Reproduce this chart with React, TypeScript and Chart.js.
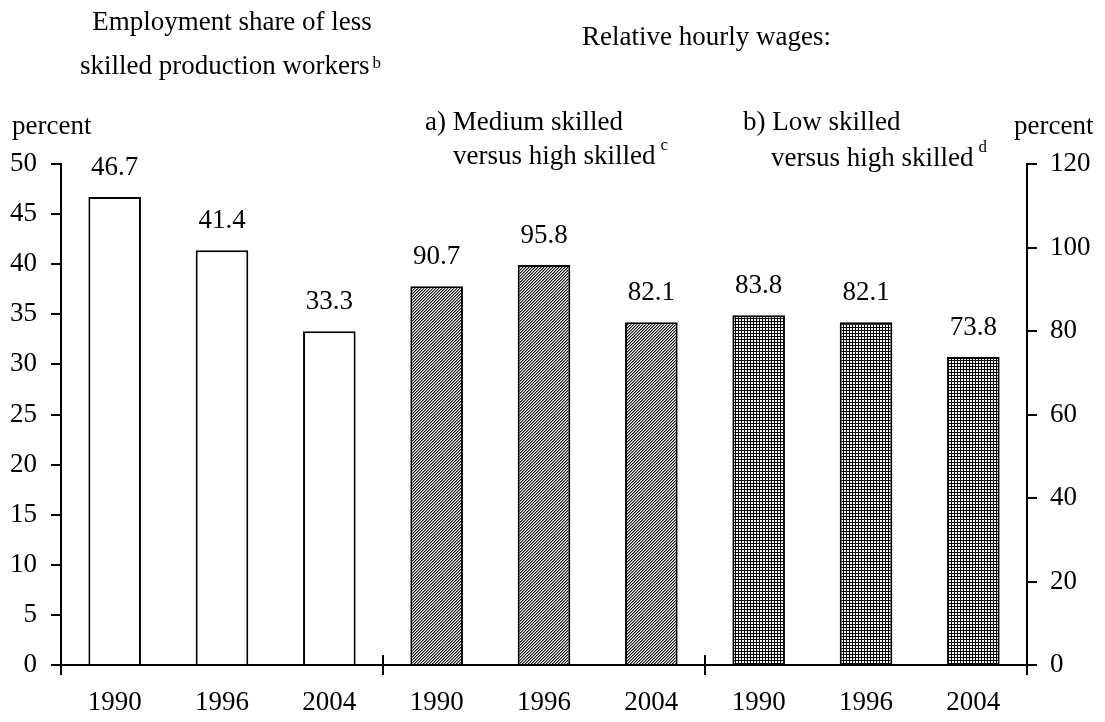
import React, { useEffect, useRef } from "react";
import { Chart, registerables } from "chart.js";

Chart.register(...registerables);

const categories = ["1990", "1996", "2004", "1990", "1996", "2004", "1990", "1996", "2004"];
const employmentShare = [46.7, 41.4, 33.3, null, null, null, null, null, null];
const mediumVsHigh = [null, null, null, 90.7, 95.8, 82.1, null, null, null];
const lowVsHigh = [null, null, null, null, null, null, 83.8, 82.1, 73.8];
const leftTicks = { min: 0, max: 50, step: 5 };
const rightTicks = { min: 0, max: 120, step: 20 };
const groupSize = 3;

const FONT = "'Liberation Serif', 'Times New Roman', serif";

function makeDiagonalPattern(): CanvasPattern | string {
  const c = document.createElement("canvas");
  c.width = 3;
  c.height = 3;
  const g = c.getContext("2d");
  if (!g) return "#888";
  g.fillStyle = "#ffffff";
  g.fillRect(0, 0, 3, 3);
  for (let x = 0; x < 3; x++) {
    for (let y = 0; y < 3; y++) {
      const s = (x + y) % 3;
      if (s === 0) {
        g.fillStyle = "#151515";
        g.fillRect(x, y, 1, 1);
      } else if (s === 1) {
        g.fillStyle = "#8a8a8a";
        g.fillRect(x, y, 1, 1);
      }
    }
  }
  return g.createPattern(c, "repeat") || "#888";
}

function makeGridPattern(): CanvasPattern | string {
  const c = document.createElement("canvas");
  c.width = 3;
  c.height = 3;
  const g = c.getContext("2d");
  if (!g) return "#666";
  g.fillStyle = "#f4f4f4";
  g.fillRect(0, 0, 3, 3);
  g.fillStyle = "#000000";
  g.fillRect(0, 0, 3, 1);
  g.fillRect(0, 0, 1, 3);
  return g.createPattern(c, "repeat") || "#666";
}

const valueLabelPlugin = {
  id: "valueLabels",
  afterDatasetsDraw(chart: any) {
    const ctx = chart.ctx;
    ctx.save();
    ctx.font = `27px ${FONT}`;
    ctx.fillStyle = "#000";
    ctx.textAlign = "center";
    ctx.textBaseline = "middle";
    chart.data.datasets.forEach((ds: any, di: number) => {
      const meta = chart.getDatasetMeta(di);
      meta.data.forEach((el: any, i: number) => {
        const v = ds.data[i];
        if (v === null || v === undefined) return;
        ctx.fillText(Number(v).toFixed(1), el.x, el.y - 29);
      });
    });
    ctx.restore();
  },
};

const annotationPlugin = {
  id: "annotations",
  afterDraw(chart: any) {
    const ctx = chart.ctx;
    const x = chart.scales.x;
    ctx.save();
    // upper halves of group separator ticks on x axis
    const n = categories.length;
    const w = (x.right - x.left) / n;
    ctx.strokeStyle = "#000";
    ctx.lineWidth = 2;
    for (let i = 0; i <= n; i += groupSize) {
      const px = Math.round(x.getPixelForValue(0) - w / 2 + i * w);
      ctx.beginPath();
      ctx.moveTo(px, x.top);
      ctx.lineTo(px, x.top - 10);
      ctx.stroke();
    }

    ctx.fillStyle = "#000";
    ctx.textBaseline = "alphabetic";
    const main = `27px ${FONT}`;
    const sup = `17px ${FONT}`;
    const withSup = (text: string, sx: number, by: number, s: string) => {
      ctx.font = main;
      ctx.textAlign = "left";
      ctx.fillText(text, sx, by);
      const tw = ctx.measureText(text).width;
      ctx.font = sup;
      ctx.fillText(s, sx + tw + 5, by - 14);
    };

    ctx.font = main;
    ctx.textAlign = "center";
    ctx.fillText("Employment share of less", 232, 30);
    ctx.textAlign = "left";
    ctx.font = main;
    ctx.fillText("skilled production workers", 80, 74);
    const tw = ctx.measureText("skilled production workers").width;
    ctx.font = sup;
    ctx.fillText("b", 80 + tw + 3, 68);

    ctx.font = main;
    ctx.textAlign = "left";
    ctx.fillText("Relative hourly wages:", 582, 45);

    ctx.fillText("percent", 12, 134);
    ctx.fillText("percent", 1014, 134);

    ctx.fillText("a) Medium skilled", 425, 130);
    withSup("versus high skilled", 453, 164, "c");
    ctx.font = main;
    ctx.textAlign = "left";
    ctx.fillText("b) Low skilled", 743, 130);
    withSup("versus high skilled", 771, 166, "d");
    ctx.restore();
  },
};

export default function App() {
  const ref = useRef<HTMLCanvasElement | null>(null);

  useEffect(() => {
    document.body.style.margin = "0";
    const canvas = ref.current;
    if (!canvas) return;
    Chart.defaults.font.family = FONT;
    Chart.defaults.color = "#000";

    const diag = makeDiagonalPattern();
    const grid = makeGridPattern();

    const axisBorder = { display: true, color: "#000", width: 2 };

    const chart = new Chart(canvas, {
      type: "bar",
      data: {
        labels: categories,
        datasets: [
          {
            label: "Employment share of less skilled production workers",
            data: employmentShare,
            yAxisID: "y",
            backgroundColor: "#ffffff",
            borderColor: "#000",
            borderWidth: 2,
            grouped: false,
            barPercentage: 0.49,
            categoryPercentage: 1,
          } as any,
          {
            label: "Medium skilled versus high skilled",
            data: mediumVsHigh,
            yAxisID: "y1",
            backgroundColor: diag as any,
            borderColor: "#000",
            borderWidth: 2,
            grouped: false,
            barPercentage: 0.49,
            categoryPercentage: 1,
          } as any,
          {
            label: "Low skilled versus high skilled",
            data: lowVsHigh,
            yAxisID: "y1",
            backgroundColor: grid as any,
            borderColor: "#000",
            borderWidth: 2,
            grouped: false,
            barPercentage: 0.49,
            categoryPercentage: 1,
          } as any,
        ],
      },
      options: {
        responsive: false,
        animation: false,
        devicePixelRatio: 1,
        layout: { padding: { top: 164, left: 0, right: 0, bottom: 0 } },
        plugins: {
          legend: { display: false },
          tooltip: { enabled: false },
          title: { display: false },
        },
        scales: {
          x: {
            offset: true,
            grid: {
              offset: true,
              drawOnChartArea: false,
              drawTicks: true,
              tickLength: 10,
              lineWidth: 2,
              color: (c: any) =>
                c.index === undefined || c.index % groupSize === 0 ? "#000" : "rgba(0,0,0,0)",
            },
            border: axisBorder,
            ticks: {
              font: { size: 27, family: FONT },
              color: "#000",
              padding: 12,
              autoSkip: false,
              maxRotation: 0,
            },
            afterFit: (s: any) => {
              s.height = 57;
            },
          },
          y: {
            position: "left",
            min: leftTicks.min,
            max: leftTicks.max,
            ticks: {
              stepSize: leftTicks.step,
              font: { size: 27, family: FONT },
              color: "#000",
              padding: 14,
            },
            grid: {
              drawOnChartArea: false,
              tickLength: 10,
              lineWidth: 2,
              color: "#000",
            },
            border: axisBorder,
            afterFit: (s: any) => {
              s.width = 61;
            },
          },
          y1: {
            position: "right",
            min: rightTicks.min,
            max: rightTicks.max,
            ticks: {
              stepSize: rightTicks.step,
              font: { size: 27, family: FONT },
              color: "#000",
              padding: 13,
            },
            grid: {
              drawOnChartArea: false,
              tickLength: 10,
              lineWidth: 2,
              color: "#000",
            },
            border: axisBorder,
            afterFit: (s: any) => {
              s.width = 78;
            },
          },
        },
      } as any,
      plugins: [valueLabelPlugin, annotationPlugin],
    });

    return () => chart.destroy();
  }, []);

  return (
    <div style={{ width: 1105, height: 722, background: "#fff" }}>
      <canvas ref={ref} width={1105} height={722} style={{ display: "block" }} />
    </div>
  );
}
